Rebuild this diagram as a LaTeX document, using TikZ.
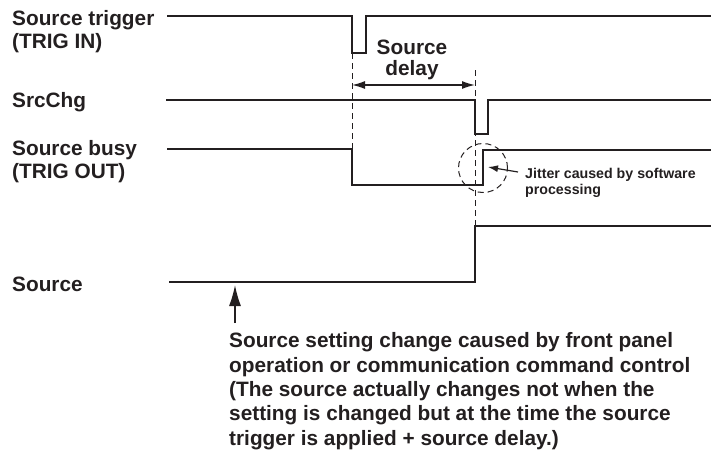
\documentclass[tikz,border=0pt]{standalone}
\usepackage{fontspec}
\setmainfont{Liberation Sans}
\usetikzlibrary{arrows.meta,positioning}
\definecolor{ink}{HTML}{231F20}

\begin{document}
\begin{tikzpicture}[x=1pt,y=-1pt,
 sig/.style={draw=ink,line width=2.2pt},
 guide/.style={draw=ink,line width=1pt,dash pattern=on 6pt off 4pt},
 lbl/.style={font=\fontsize{20.8}{23}\selectfont\bfseries,text=ink,align=left,inner sep=0pt,anchor=base west},
 note/.style={font=\fontsize{14.2}{16}\selectfont\bfseries,text=ink,align=left,inner sep=0pt,anchor=base west},
 arr/.style={draw=ink,line width=1.4pt,-{Latex[length=21pt,width=12pt]}},
 dim/.style={draw=ink,line width=1.4pt,{Latex[length=13pt,width=8pt]}-{Latex[length=13pt,width=8pt]}}
]
\useasboundingbox (0,0) rectangle (717,453);

% signal names (base = last line)
\node[lbl] (trig) at (12,48) {Source trigger\\(TRIG IN)};
\node[lbl] (chg) at (12,107) {SrcChg};
\node[lbl] (busy) at (12,178) {Source busy\\(TRIG OUT)};
\node[lbl] (src) at (12,291) {Source};

% waveforms
\draw[sig] (167,16) -- (352,16) -- (352,53) -- (366,53) -- (366,16) -- (711,16);
\draw[sig] (166,100) -- (475,100) -- (475,134) -- (488,134) -- (488,100) -- (711,100);
\draw[sig] (167,149) -- (352,149) -- (352,185) -- (483,185) -- (483,150) -- (711,150);
\draw[sig] (169,282) -- (475,282) -- (475,226) -- (711,226);

% timing guides
\coordinate (g1top) at (352,53);
\coordinate (g1bot) at (352,149);
\coordinate (g2top) at (475,70);
\coordinate (g2bot) at (475,226);
\draw[guide] (g1top) -- (g1bot);
\draw[guide] (g2top) -- (g2bot);

% source delay
\coordinate (dl) at (352,85);
\coordinate (dr) at (475,85);
\draw[dim] (dl) -- (dr);
\node[lbl,font=\fontsize{20.8}{20.5}\selectfont\bfseries,align=center,anchor=base] (delay) at (412,75) {Source\\delay};

% jitter
\node[circle,guide,minimum size=49pt,inner sep=0pt] (jit) at (483,168) {};
\node[note] (jtxt) at (525,194) {Jitter caused by software\\processing};
\coordinate (jtail) at (518,172);
\draw[draw=ink,line width=1.2pt,-{Latex[length=10pt,width=7pt]}] (jtail) -- (488,167);

% setting change note
\node[lbl,font=\fontsize{20.8}{24.3}\selectfont\bfseries] (chgnote) at (229,445) {Source setting change caused by front panel\\operation or communication command control\\(The source actually changes not when the\\setting is changed but at the time the source\\trigger is applied + source delay.)};
\coordinate (settail) at (235,323);
\coordinate (sethead) at (235,285);
\draw[arr] (settail) -- (sethead);
\end{tikzpicture}
\end{document}
